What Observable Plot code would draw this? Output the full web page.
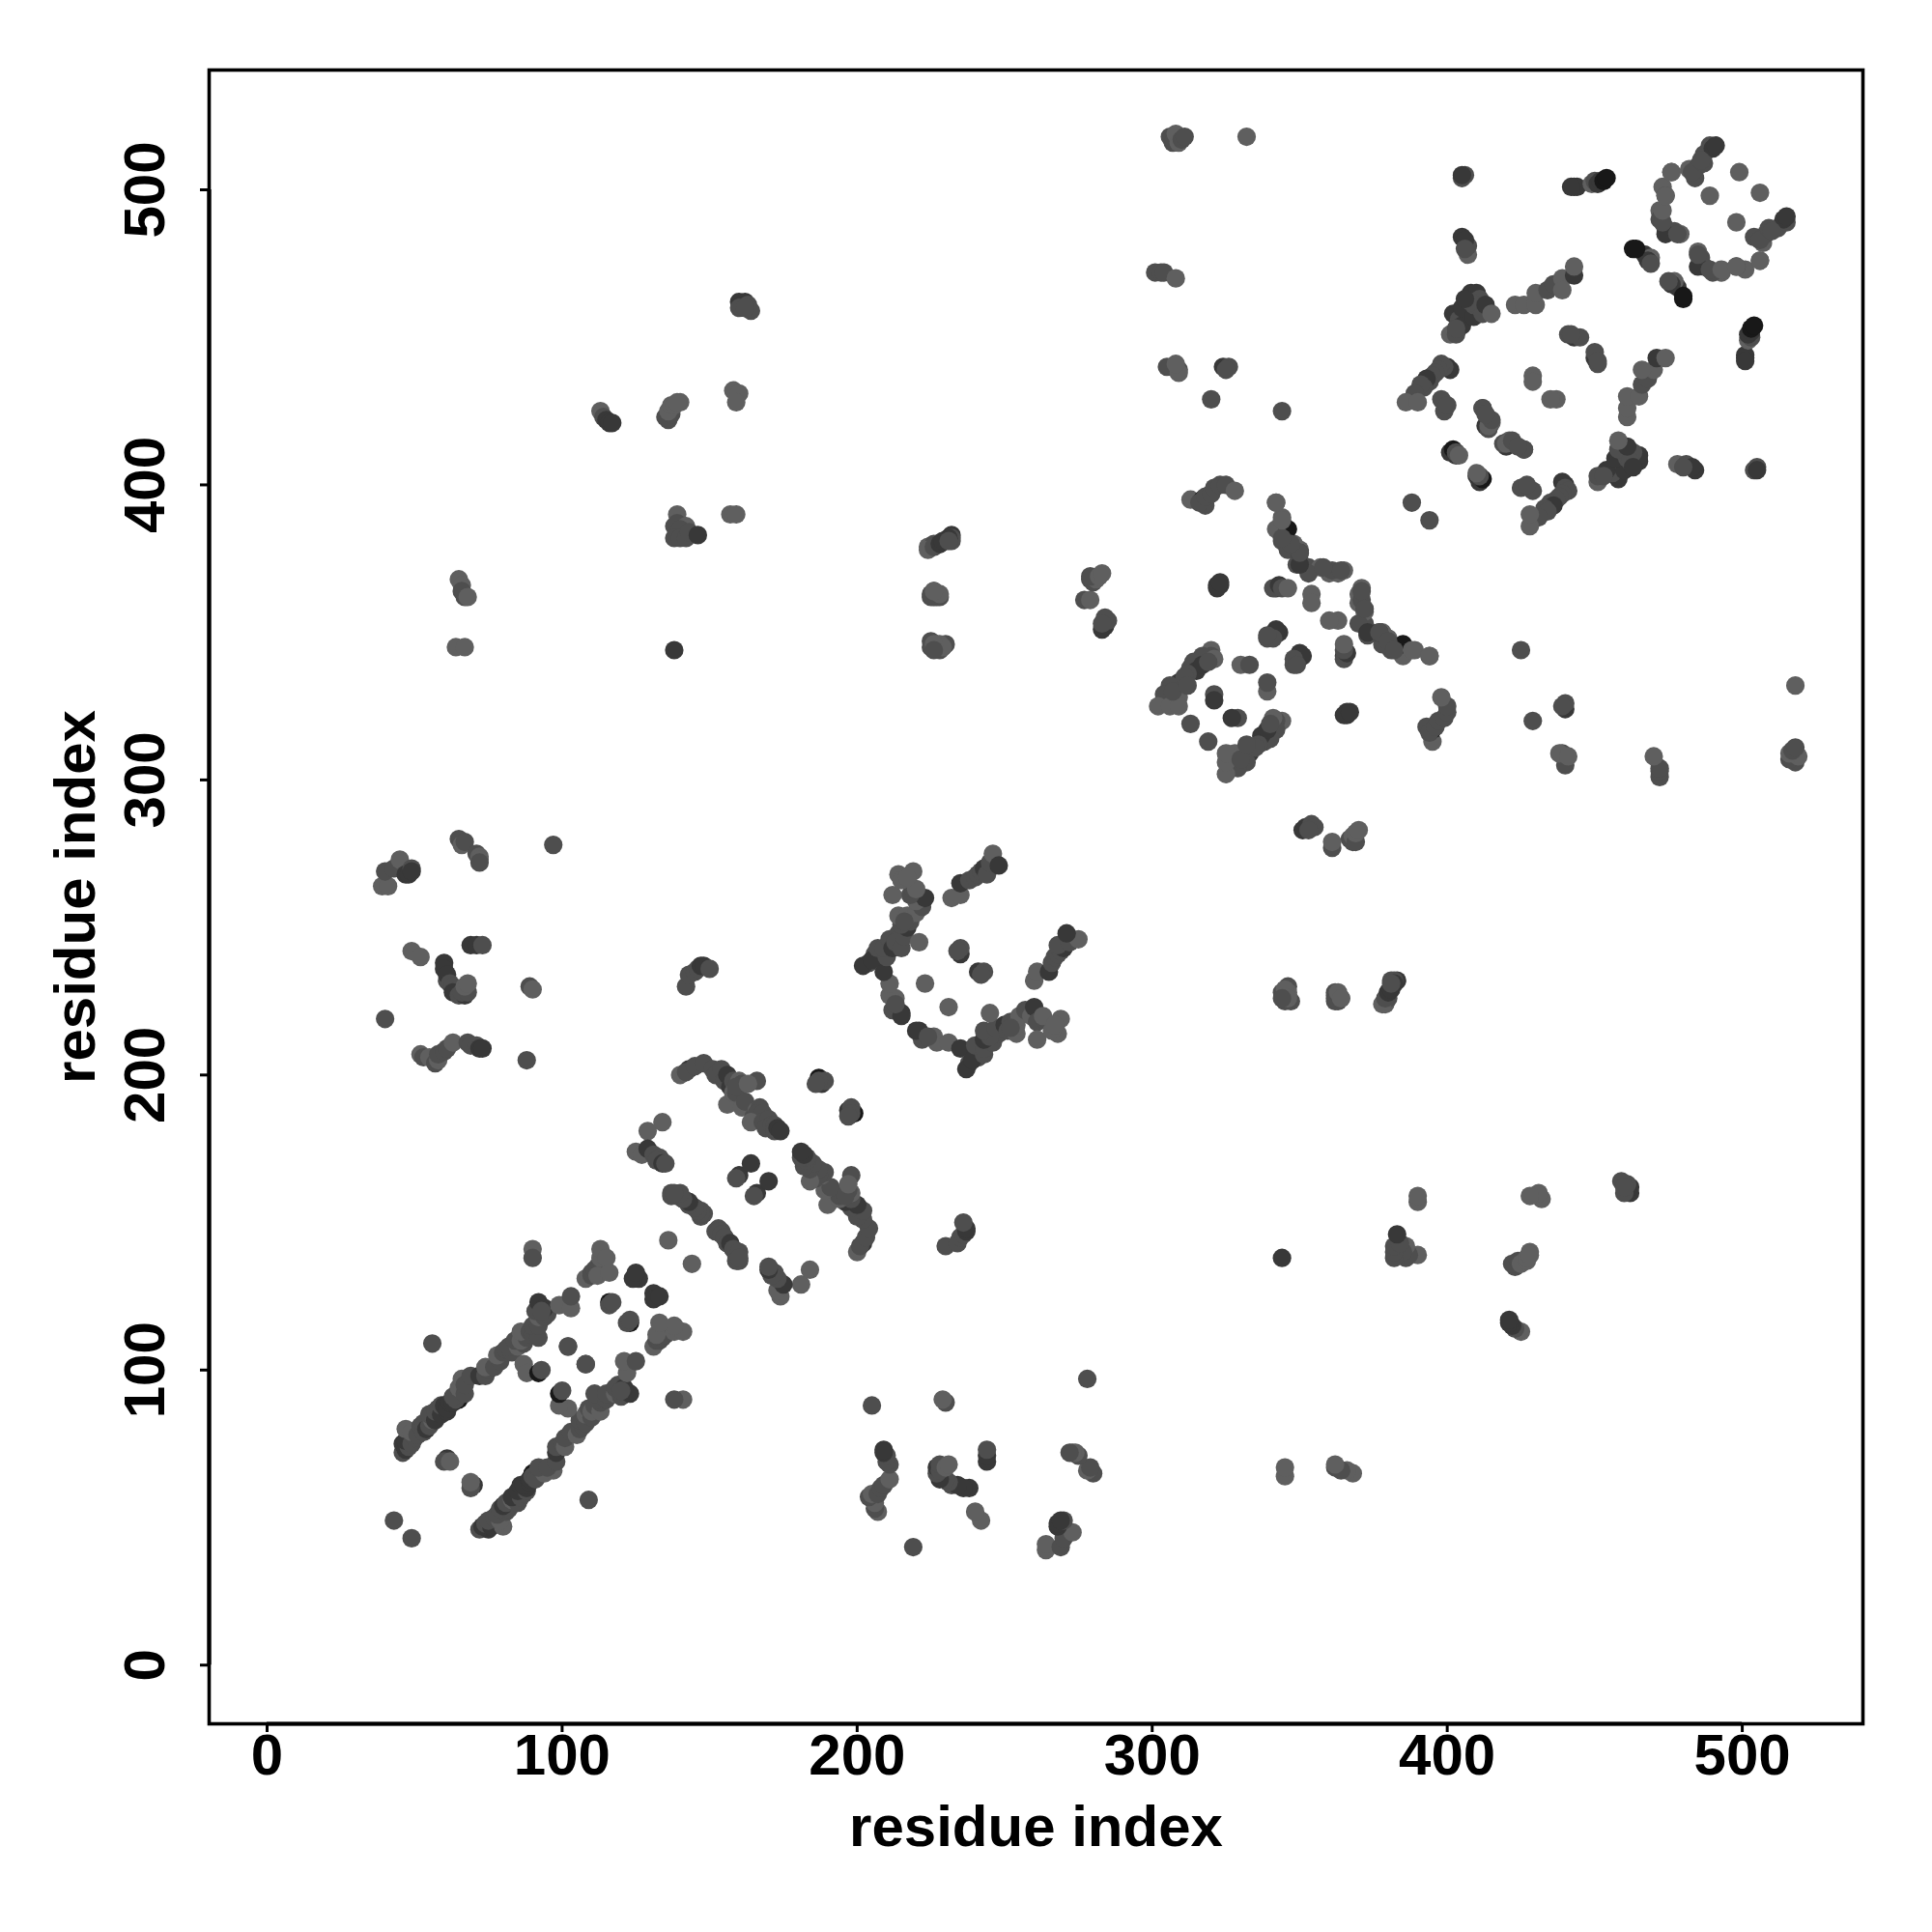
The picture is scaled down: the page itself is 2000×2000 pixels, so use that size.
<!DOCTYPE html>
<html>
<head>
<meta charset="utf-8">
<style>html,body{margin:0;padding:0;background:#fff}</style>
<script src="https://cdn.jsdelivr.net/npm/d3@7"></script>
<script src="https://cdn.jsdelivr.net/npm/@observablehq/plot@0.6"></script>
</head>
<body>
<div id="chart"></div>
<script>
// Each contact: [residue i, residue j, shade code 1 (light) .. 4 (near black)]. The map is symmetric.
const helixPair = [[46,72,2],[46,75,3],[47,73,3],[48,74,2],[47,76,3],[49,75,2],[47,80,1],[50,77,2],[49,79,1],[51,78,2],[52,81,2],[53,79,2],[53,82,2],[54,80,3],[55,81,2],[56,83,1],[55,85,2],[57,83,3],[57,86,2],[58,87,2],[59,85,3],[59,88,2],[60,88,3],[61,86,3],[61,87,3],[62,89,3],[63,89,3],[65,90,4],[64,90,2],[63,91,2],[65,94,1],[67,92,2],[66,97,1],[67,95,2],[69,98,2],[72,98,3],[74,98,2],[75,100,2],[74,101,1],[77,101,2],[79,103,2],[78,105,1],[80,106,2],[81,107,2],[83,106,2],[82,108,2],[85,108,1],[84,110,2],[87,109,2],[86,110,1],[88,111,2],[86,113,1],[89,113,2],[91,113,2],[90,112,2],[92,111,2],[90,115,2],[92,115,2],[92,118,1],[91,120,2],[94,118,2],[95,119,2],[92,123,3],[94,121,3],[93,120,2],[99,122,1],[103,121,1],[103,125,2],[108,131,1],[110,132,2],[110,133,2],[111,134,2],[112,135,2],[113,136,2],[112,132,1],[113,138,1],[113,141,1],[115,138,1],[116,133,1]];
const helixInner = [[87,102,1],[88,99,1],[92,99,4],[93,100,2],[102,108,2],[108,102,2],[116,123,4],[116,122,2],[117,123,2],[125,132,3],[126,131,3],[124,131,3],[125,133,3],[61,70,3],[60,69,2],[62,69,1],[56,109,2],[43,49,2],[90,141,1],[90,138,2],[136,144,1]];
const hairpin = [[140,200,1],[143,202,3],[142,201,2],[145,203,2],[148,204,2],[151,202,2],[152,200,2],[154,202,2],[155,198,2],[156,200,3],[157,196,3],[158,198,2],[160,198,1],[166,198,2],[156,190,1],[158,194,1],[159,194,2],[161,189,1],[162,191,2],[161,197,2],[159,196,2],[163,197,1],[165,186,2],[166,188,1],[167,189,2],[166,187,2],[168,187,2],[164,184,1],[168,184,2],[170,185,2],[169,182,2],[171,183,2],[172,183,2],[172,181,2],[173,182,3],[174,181,3]];
const hairpinSide = [[125,174,1],[127,173,1],[129,181,1],[129,175,3],[134,184,1],[131,173,2],[133,172,2],[132,171,2],[134,170,3],[135,170,2],[137,160,2],[139,159,2],[140,159,1],[141,158,2],[143,156,2],[145,155,2],[147,154,2],[147,152,2],[148,153,2],[153,147,2],[154,146,2],[155,145,2],[156,143,2],[157,143,3],[158,141,2],[160,140,2],[159,137,2],[160,138,2],[160,166,3],[159,165,2],[164,170,3],[187,199,4],[188,197,3],[189,198,2],[187,198,2],[186,197,2]];
const loopA = [[215,221,3],[212,222,2],[213,226,1],[211,227,1],[211,231,1],[209,235,3],[204,238,2],[202,237,3],[206,241,2],[205,239,3],[207,243,2],[210,240,2],[209,243,2],[211,246,2],[214,248,2],[214,246,2],[212,243,3],[213,245,2],[215,243,2],[216,247,2],[221,245,1],[217,250,3],[215,251,2],[218,252,2],[214,254,1],[217,254,1],[220,255,1],[216,252,2],[222,257,2],[220,259,1],[223,260,3],[218,261,2],[219,263,2],[220,263,1],[212,261,1],[214,268,1],[219,269,1],[215,266,1],[217,267,1],[223,231,1],[235,241,3],[235,243,2],[234,242,2]];
const loopB = [[232,260,1],[235,261,1],[235,265,3],[238,266,2],[240,267,2],[241,268,2],[242,269,2],[243,270,3],[244,268,2],[245,272,2],[246,275,1],[248,271,3],[215,220,3],[213,224,2]];
const knotA = [[313,395,1],[317,395,4],[318,393,2],[316,394,2],[318,396,2],[320,397,2],[321,399,2],[323,400,2],[325,400,2],[328,398,1]];
const curveA = [[342,394,1],[344,389,1],[342,385,1],[344,381,2],[346,378,2],[348,380,1],[350,378,1],[349,373,2],[350,374,2],[353,372,2],[357,372,1],[360,370,1],[363,370,1],[365,371,1],[350,377,3],[361,371,2],[364,371,2],[346,385,4]];
const curveB = [[353,370,2],[350,373,3],[350,377,2],[347,380,2],[344,382,2],[344,388,1],[342,394,1],[358,372,2],[322,366,3],[323,366,3],[322,365,3],[323,367,3],[342,365,3],[341,365,2],[343,366,3],[344,365,2],[346,365,1],[354,363,1],[354,360,1],[340,349,2],[339,348,2],[341,349,2],[343,350,3],[342,351,3],[341,348,2],[339,349,2],[388,394,2]];
const squareA = [[320,344,1],[320,342,2],[317,342,2],[321,341,1],[313,338,2],[314,340,2],[315,337,3],[317,339,3],[319,340,2],[312,336,2],[309,333,3],[306,332,2],[311,335,2],[304,329,2],[309,328,1],[302,325,1],[306,325,1],[309,325,1],[307,330,2],[312,332,2],[330,339,1],[333,339,2],[321,329,2],[321,327,3],[313,319,2]];
const farA = [[306,518,2],[307,516,2],[308,519,1],[309,516,1],[310,517,2],[311,518,2],[332,518,1],[301,472,2],[303,472,2],[304,472,2],[308,470,1],[305,440,2],[309,439,2],[309,438,1],[308,441,1],[324,440,3],[326,440,2],[325,439,2],[320,429,2],[344,425,2]];
const farB = [[160,462,3],[162,462,3],[161,461,3],[163,461,2],[160,460,2],[164,459,2],[162,460,2],[113,425,1],[114,423,2],[115,422,3],[116,421,3],[117,421,3],[135,423,2],[136,422,2],[137,424,2],[136,425,1],[137,427,1],[138,427,1],[140,428,1],[139,428,1],[158,432,1],[160,431,1],[159,428,1],[139,390,1],[138,386,2],[139,387,2],[142,386,1],[140,385,2],[138,382,2],[140,382,2],[142,382,2],[143,384,2],[146,383,3],[157,390,1],[159,390,1],[138,344,3],[65,368,1],[66,366,1],[67,362,2],[66,364,2],[68,362,1],[64,345,1],[67,345,1]];
const farC = [[224,379,1],[226,380,2],[228,380,3],[230,381,2],[231,382,3],[232,383,3],[232,381,2],[225,363,2],[226,362,3],[226,364,2],[228,362,2],[225,347,2],[226,346,2],[227,346,1],[229,345,2],[230,346,2],[277,361,2],[279,361,1],[279,368,2],[280,367,2],[281,368,1],[279,369,2],[282,369,1],[283,370,1],[284,352,3],[283,351,3],[285,354,2],[284,355,2],[283,353,2]];
const farD = [[39,264,1],[41,264,1],[40,269,2],[43,270,2],[45,273,1],[47,268,3],[48,268,3],[49,270,2],[49,269,3],[65,280,2],[66,278,1],[67,279,2],[71,275,2],[72,274,1],[72,273,1],[72,272,2],[97,278,2],[49,242,1],[52,240,1],[69,244,3],[71,244,3],[73,244,2],[60,238,3],[60,236,3],[61,232,2],[61,234,3],[62,231,2],[63,230,2],[63,228,3],[65,227,2],[67,227,3],[66,228,2],[68,228,2],[67,230,1],[68,231,1],[89,230,2],[90,229,1],[40,219,2],[52,207,1],[53,206,2],[55,206,1],[57,204,2],[58,205,1],[58,207,2],[60,208,2],[61,209,2],[63,211,1],[68,211,2],[69,210,2],[71,210,2],[72,209,3],[73,209,3],[88,205,2],[142,230,2],[143,234,2],[145,235,2],[146,236,2],[147,237,3],[148,237,3],[150,236,2]];
const farE = [[346,228,1],[344,228,2],[345,229,1],[345,225,2],[346,226,1],[344,226,2],[362,227,2],[362,225,2],[363,228,1],[364,226,1],[378,224,1],[379,226,2],[380,228,3],[381,229,3],[382,232,2],[382,231,3],[381,231,2]];
const knotB = [[402,458,3],[404,456,2],[405,454,3],[401,451,1],[403,451,2],[403,453,2],[407,461,3],[405,460,3],[408,465,3],[410,465,3],[409,457,3],[409,461,2],[411,460,2],[412,458,2],[411,463,2],[408,462,2],[413,461,3],[415,458,1],[406,463,3],[407,478,1],[407,481,2],[405,484,3],[406,483,3],[406,480,2],[405,504,2],[406,505,2],[405,505,3],[423,461,1],[426,461,1],[430,461,1],[430,465,1],[434,466,2],[436,468,2],[439,470,1],[439,466,1],[443,471,3],[443,474,1],[441,451,2],[443,450,3],[445,450,2],[442,451,2]];
const knotC = [[400,440,3],[401,439,3],[399,440,2],[398,441,2],[397,439,2],[396,438,2],[395,437,2],[394,435,2],[393,436,3],[392,433,2],[391,434,2],[389,431,2],[386,428,1],[390,428,1],[398,429,2],[399,425,2],[400,427,2],[429,437,1],[429,435,1],[412,426,2],[413,420,3],[415,421,1],[414,419,2],[420,414,1],[422,415,2],[426,412,2],[424,413,2],[401,411,3],[402,412,4],[403,410,3],[403,411,2],[404,410,1]];
const knotD = [[443,501,3],[444,501,3],[442,501,3],[449,502,1],[450,503,2],[451,502,3],[452,503,3],[453,503,4],[454,504,4],[476,506,1],[473,501,1],[474,498,2],[472,493,1],[472,490,2],[474,487,2],[477,486,2],[479,485,1],[482,507,1],[484,504,2],[485,508,2],[487,512,2],[489,515,2],[490,514,3],[491,515,3],[489,498,1],[499,506,1],[463,480,4],[467,478,3],[469,477,1],[468,476,3],[469,475,2],[464,480,4]];
const knotE = [[474,485,3],[478,485,2],[473,489,2],[473,493,1],[474,498,1],[476,506,1],[483,506,2],[487,509,2],[486,510,2]];
const contactGroups = [helixPair, helixInner, hairpin, hairpinSide, loopA, loopB, knotA, curveA, curveB, squareA, farA, farB, farC, farD, farE, knotB, knotC, knotD, knotE];
const shadeGrey = {1: "#5f5f5f", 2: "#4e4e4e", 3: "#383838", 4: "#181818"};
const tickValues = [0, 100, 200, 300, 400, 500];
const axisTitle = "residue index";

const table = contactGroups.flat().flatMap(([i, j, s]) => [{x: i, y: j, s}, {x: j, y: i, s}]);

const xDomain = [-19.64, 540.9];
const yDomain = [-19.9, 540.6];

const chart = Plot.plot({
  width: 2000, height: 2000,
  marginLeft: 216, marginRight: 72, marginTop: 72, marginBottom: 216,
  x: {domain: xDomain, label: null},
  y: {domain: yDomain, label: null},
  style: {fontFamily: "'Liberation Sans', Arial, sans-serif", background: "#fff"},
  marks: [
    Plot.dot(table, {x: "x", y: "y", r: 9.6, fill: d => shadeGrey[d.s], stroke: "none"}),
    Plot.frame({stroke: "#000", strokeWidth: 3.6}),
    Plot.ruleY([yDomain[0]], {x1: tickValues[0], x2: tickValues[5], stroke: "#000", strokeWidth: 4.2}),
    Plot.ruleX([xDomain[0]], {y1: tickValues[0], y2: tickValues[5], stroke: "#000", strokeWidth: 4.2}),
    Plot.axisX({ticks: tickValues, tickFormat: d => d, tickSize: 9, tickPadding: 1, fontSize: 60, fontWeight: "bold", strokeWidth: 3, stroke: "#000", fill: "#000", label: axisTitle, labelAnchor: "center", labelArrow: "none", labelOffset: 126}),
    Plot.axisY({ticks: tickValues, tickFormat: d => d, tickSize: 9, tickPadding: 38, tickRotate: -90, textAnchor: "middle", fontSize: 60, fontWeight: "bold", strokeWidth: 3, stroke: "#000", fill: "#000", label: axisTitle, labelAnchor: "center", labelArrow: "none", labelOffset: 161})
  ]
});
document.getElementById("chart").appendChild(chart);
</script>
</body>
</html>
